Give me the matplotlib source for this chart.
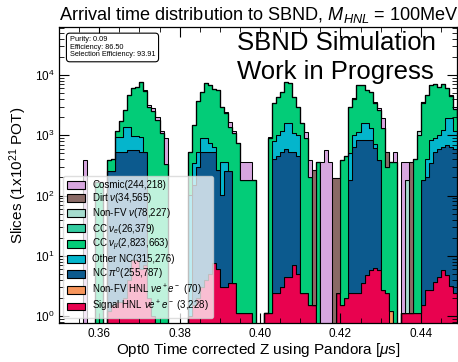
import numpy as np
import matplotlib
matplotlib.use("Agg")
import matplotlib.pyplot as plt
from matplotlib.patches import Patch
from matplotlib.ticker import AutoMinorLocator, LogLocator, NullFormatter, FixedLocator

plt.rcParams['font.family'] = ['Liberation Sans', 'DejaVu Sans']
plt.rcParams['mathtext.fontset'] = 'custom'
plt.rcParams['mathtext.rm'] = 'Liberation Sans'
plt.rcParams['mathtext.it'] = 'Liberation Sans:italic'
plt.rcParams['mathtext.bf'] = 'Liberation Sans:bold'

# ---------------- data (100 bins of 0.001 us from 0.35 to 0.45) ----------------
bin_edges = np.round(np.linspace(0.35, 0.45, 101), 4)

signal_hnl = [
    0, 0, 0, 0, 0, 0, 0, 0, 0, 0,
    0, 0, 1.2, 1.5, 1.7, 1.7, 2, 4, 8.5, 8.5,
    6, 7, 2, 1, 0, 0, 0, 0, 0, 0,
    0, 0, 1, 1.5, 2, 3, 4, 5, 7.5, 6,
    3, 3, 3.5, 3.5, 1.1, 1.1, 1.1, 1.1, 0, 0,
    0, 1.1, 1.1, 2.4, 2.4, 3, 4.5, 4.5, 7, 5,
    2.4, 2.4, 1.5, 1.5, 0, 0, 0, 0, 0, 2.4,
    1.5, 2, 2.4, 2.4, 2.4, 3.5, 4.8, 5.8, 6.2, 5.8,
    2.7, 2.4, 0, 0, 0, 1.1, 1.1, 1.1, 1.1, 1.1,
    1.5, 2.7, 2.7, 3.7, 4.5, 5.8, 4.8, 3.2, 2.4, 2,
]
nonfv_hnl = [0] * 82 + [1.2] + [0] * 17
nc_pi0 = [
    0, 0, 0, 0, 0, 0, 0, 0, 0, 0,
    0, 0, 250, 250, 530, 530, 530, 560, 560, 560,
    530, 530, 0, 0, 0, 0, 0, 0, 0, 0,
    0, 0, 0, 150, 300, 530, 530, 530, 530, 260,
    100, 250, 250, 0, 0, 0, 0, 0, 0, 0,
    0, 0, 0, 400, 450, 530, 600, 530, 530, 450,
    0, 0, 0, 0, 0, 0, 0, 0, 0, 0,
    0, 0, 180, 645, 830, 830, 830, 830, 605, 390,
    0, 0, 0, 0, 0, 0, 0, 0, 0, 0,
    180, 200, 340, 533, 600, 645, 690, 645, 600, 500,
]
other_nc = [
    0, 0, 0, 0, 0, 0, 0, 0, 0, 0,
    0, 0, 0, 0, 400, 400, 850, 820, 400, 400,
    400, 0, 0, 0, 0, 0, 0, 0, 0, 0,
    0, 0, 100, 200, 230, 360, 360, 200, 100, 0,
    260, 110, 0, 0, 0, 0, 0, 0, 0, 0,
    0, 0, 0, 400, 550, 670, 980, 1050, 570, 550,
    0, 0, 0, 0, 0, 0, 0, 0, 0, 0,
    0, 0, 320, 355, 320, 750, 750, 470, 95, 0,
    0, 0, 0, 0, 0, 0, 0, 0, 0, 0,
    0, 200, 494, 367, 400, 575, 1250, 1295, 600, 400,
]
cc_numu = [
    0, 0, 0, 0, 0, 0, 0, 0, 0, 170,
    170, 0, 140, 150, 270, 770, 1220, 3300, 5030, 5400,
    6800, 5000, 3000, 2500, 1800, 1100, 340, 0, 0, 0,
    0, 0, 430, 1130, 3128, 4397, 6406, 6100, 5300, 5300,
    2597, 2000, 1130, 1100, 742, 183, 183, 183, 183, 0,
    0, 0, 900, 2588, 3370, 4100, 6115, 5700, 3270, 1955,
    1577, 900, 200, 0, 360, 0, 0, 0, 0, 0,
    388, 450, 2400, 3000, 5650, 5200, 4000, 3900, 2800, 2200,
    1300, 300, 360, 360, 0, 0, 0, 0, 399, 1000,
    3200, 4200, 5966, 6300, 5395, 5780, 4060, 2600, 1500, 1000,
]
cc_nue = [0] * 100
nonfv_nu = [0] * 86 + [180, 0, 0, 200, 220] + [0] * 9
dirt_nu = [0] * 63 + [265, 0, 0, 0, 0, 195, 190, 0, 0, 60, 100] + [0] * 7 + \
          [220, 0, 0, 0, 0, 0, 362] + [0] * 12
cosmic = [
    0, 0, 0, 0, 0, 0, 390, 0, 0, 0,
    0, 0, 0, 0, 0, 0, 0, 0, 200, 100,
    0, 100, 200, 300, 200, 100, 550, 0, 0, 0,
    0, 0, 0, 0, 0, 0, 0, 65, 60, 64,
    0, 97, 300, 96, 0, 180, 180, 180, 0, 0,
    0, 0, 50, 0, 0, 0, 0, 220, 0, 0,
    0, 250, 190, 0, 0, 363, 570, 363, 0, 0,
    0, 0, 0, 0, 0, 0, 0, 100, 100, 210,
    610, 0, 0, 170, 0, 362, 183, 0, 0, 0,
    0, 0, 0, 0, 0, 0, 0, 160, 200, 100,
]

labels = [
    r"Signal HNL $\nu e^+e^-$ (3,228)",
    r"Non-FV HNL $\nu e^+e^-$ (70)",
    r"NC $\pi^0$(255,787)",
    r"Other NC(315,276)",
    r"CC $\nu_\mu$(2,823,663)",
    r"CC $\nu_e$(26,379)",
    r"Non-FV $\nu$(78,227)",
    r"Dirt $\nu$(34,565)",
    r"Cosmic(244,218)",
]
series = [signal_hnl, nonfv_hnl, nc_pi0, other_nc, cc_numu, cc_nue, nonfv_nu, dirt_nu, cosmic]
colors = ["#e8024f", "#f7965c", "#0c5a8e", "#04b5cc", "#03cc78",
          "#33cca0", "#a6dcce", "#8a6a66", "#d7a6df"]

# ---------------- figure ----------------
W, H = 458, 362
fig = plt.figure(figsize=(W / 100, H / 100), dpi=100)
ax = fig.add_axes([59 / W, 1 - 323 / H, 398 / W, 296 / H])

base = np.full(100, 1e-3)
for vals, col in zip(series, colors):
    top = base + np.asarray(vals, dtype=float)
    ax.stairs(top, bin_edges, baseline=base, fill=True, facecolor=col,
              edgecolor="black", linewidth=0.75)
    base = top

ax.set_yscale("log")
ax.set_xlim(0.35, 0.449)
ax.set_ylim(0.765, 6.3e4)

ax.xaxis.set_major_locator(FixedLocator([0.36, 0.38, 0.40, 0.42, 0.44]))
ax.xaxis.set_minor_locator(AutoMinorLocator(4))
ax.set_xticklabels(["0.36", "0.38", "0.40", "0.42", "0.44"])
ax.yaxis.set_major_locator(LogLocator(base=10, numticks=10))
ax.yaxis.set_minor_locator(LogLocator(base=10, subs=np.arange(2, 10), numticks=20))
ax.yaxis.set_minor_formatter(NullFormatter())
ax.tick_params(which="both", direction="in", top=True, right=True, labelsize=8.5)
ax.tick_params(which="major", length=7, width=0.8)
ax.tick_params(which="minor", length=3.5, width=0.6)
for s in ax.spines.values():
    s.set_linewidth(0.9)

ax.set_xlabel(r"Opt0 Time corrected Z using Pandora [$\mu$s]", fontsize=11, labelpad=1)
ax.set_ylabel(r"Slices (1x10$^{21}$ POT)", fontsize=11, labelpad=4)

fig.text(59 / W, 1 - 20 / H, r"Arrival time distribution to SBND, $M_{HNL}$ = 100MeV",
         fontsize=13.1, ha="left", va="baseline")

ax.text(0.447, 0.985, "SBND Simulation\nWork in Progress", transform=ax.transAxes,
        fontsize=18.5, ha="left", va="top", linespacing=1.25)

ax.text(0.027, 0.968, "Purity: 0.09\nEfficiency: 86.50\nSelection Efficiency: 93.91",
        transform=ax.transAxes, fontsize=5.3, ha="left", va="top", linespacing=1.1,
        bbox=dict(boxstyle="round,pad=0.45", fc="white", ec="black", lw=0.8))

handles = [Patch(facecolor=c, edgecolor="black", linewidth=0.8) for c in colors]
leg = ax.legend(handles[::-1], labels[::-1], loc="lower left",
                bbox_to_anchor=(0.005, 0.01), fontsize=7, frameon=True,
                framealpha=0.75, edgecolor="lightgray", handlelength=1.9,
                handleheight=0.85, labelspacing=0.12, borderpad=0.4,
                handletextpad=0.7, borderaxespad=0.2)

fig.savefig("out.png", dpi=100)
